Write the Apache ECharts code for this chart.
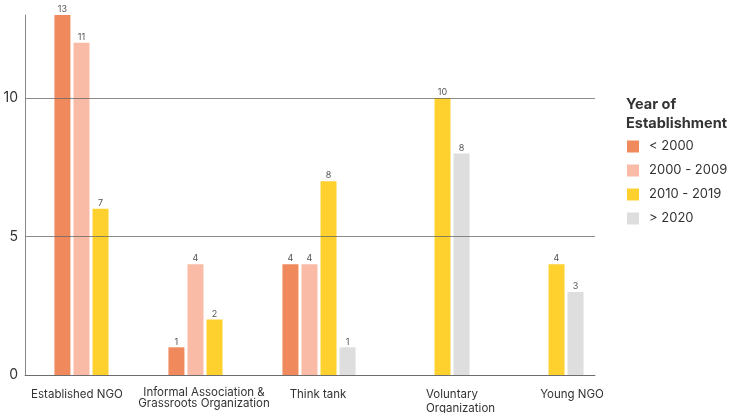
<!DOCTYPE html>
<html>
<head>
<meta charset="utf-8">
<style>
html, body { margin: 0; padding: 0; background: #fff; }
#main { width: 732px; height: 413px; }
</style>
</head>
<body>
<div id="main"></div>
<script src="https://cdn.jsdelivr.net/npm/echarts@6/dist/echarts.min.js"></script>
<script>
// categories and series (bar heights as drawn, labels as printed)
var categories = ['Established NGO', 'Informal Association &\nGrassroots Organization', 'Think tank', 'Voluntary\nOrganization', 'Young NGO'];
var seriesNames = ['< 2000', '2000 - 2009', '2010 - 2019', '> 2020'];
var before2000 = [13, 1, 4, null, null];
var from2000 = [12, 4, 4, null, null];
var from2010 = [6, 2, 7, 10, 4];
var after2020 = [null, null, 1, 8, 3];
var before2000Labels = [13, 1, 4, null, null];
var from2000Labels = [11, 4, 4, null, null];
var from2010Labels = [7, 2, 8, 10, 4];
var after2020Labels = [null, null, 1, 8, 3];
var yTicks = [0, 5, 10];

var colors = ['#F08A5C', '#F9BBA6', '#FED12F', '#DEDEDE'];
var font = 'Inter, "Noto Sans", sans-serif';

// small per-label tweaks so the category labels sit like the original
var labelStyles = [
    {padding: [1, 10, 0, 0]},
    {padding: [0, 0, 0, 16], lineHeight: 11},
    {padding: [1, 0, 0, 16]},
    {align: 'left', padding: [1, 0, 0, 2]},
    {padding: [1, 0, 0, 68]}
];

var myChart = echarts.init(document.getElementById('main'));

function makeSeries(idx, values, labels) {
    return {
        name: seriesNames[idx],
        type: 'bar',
        xAxisIndex: 1,
        yAxisIndex: 1,
        barWidth: 16,
        barGap: '19%',
        itemStyle: {color: colors[idx]},
        label: {
            show: true,
            position: 'top',
            distance: 1,
            fontSize: 9,
            fontFamily: font,
            color: '#555',
            formatter: function (p) {
                var v = labels[p.dataIndex];
                return v == null ? '' : String(v);
            }
        },
        data: values
    };
}

var option = {
    animation: false,
    title: {
        text: 'Year of\nEstablishment',
        left: 626,
        top: 95,
        padding: 0,
        textStyle: {fontSize: 14.5, fontWeight: 'bold', color: '#333', fontFamily: font, lineHeight: 19}
    },
    legend: {
        orient: 'vertical',
        left: 627,
        top: 140,
        padding: 0,
        itemWidth: 12,
        itemHeight: 12,
        itemGap: 11,
        icon: 'rect',
        data: seriesNames,
        textStyle: {fontSize: 13, color: '#333', fontFamily: font, padding: [0, 0, 0, 5]}
    },
    grid: [
        {left: 25, right: 137, top: 15, bottom: 38, outerBoundsMode: 'none'},
        {left: 34, right: 128, top: 15, bottom: 38, outerBoundsMode: 'none'}
    ],
    xAxis: [
        {
            type: 'category',
            gridIndex: 0,
            data: categories.map(function (c, i) {
                return {value: c, textStyle: labelStyles[i]};
            }),
            axisLine: {lineStyle: {color: '#888'}},
            axisTick: {show: false},
            axisLabel: {
                interval: 0,
                margin: 12,
                fontSize: 11.5,
                lineHeight: 14,
                color: '#333',
                fontFamily: font
            }
        },
        {
            type: 'category',
            gridIndex: 1,
            data: categories,
            show: false
        }
    ],
    yAxis: [
        {
            type: 'value',
            gridIndex: 0,
            min: 0,
            max: 13,
            interval: 5,
            z: 5,
            axisLine: {show: true, lineStyle: {color: '#888'}},
            axisTick: {show: false},
            splitLine: {showMaxLine: false, lineStyle: {color: 'rgba(100,100,100,0.75)'}},
            axisLabel: {
                fontSize: 14,
                color: '#333',
                margin: 7,
                fontFamily: font,
                formatter: function (v) {
                    return yTicks.indexOf(v) >= 0 ? String(v) : '';
                }
            }
        },
        {
            type: 'value',
            gridIndex: 1,
            min: 0,
            max: 13,
            show: false
        }
    ],
    series: [
        makeSeries(0, before2000, before2000Labels),
        makeSeries(1, from2000, from2000Labels),
        makeSeries(2, from2010, from2010Labels),
        makeSeries(3, after2020, after2020Labels)
    ]
};
myChart.setOption(option);
</script>
</body>
</html>
